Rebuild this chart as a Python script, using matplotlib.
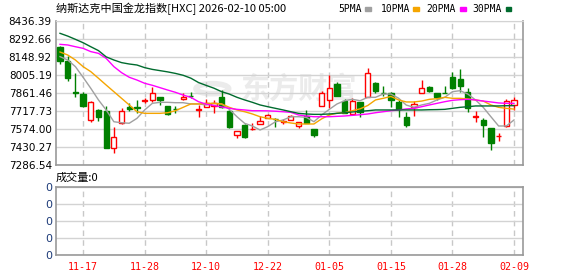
import matplotlib
matplotlib.use("Agg")
import matplotlib.pyplot as plt
from matplotlib.patches import Rectangle, Circle

dates = ["11-12", "11-13", "11-14", "11-17", "11-18", "11-19", "11-20", "11-21", "11-24", "11-25",
         "11-26", "11-28", "12-01", "12-02", "12-03", "12-04", "12-05", "12-08", "12-09", "12-10",
         "12-11", "12-12", "12-15", "12-16", "12-17", "12-18", "12-19", "12-22", "12-23", "12-24",
         "12-26", "12-29", "12-30", "12-31", "01-02", "01-05", "01-06", "01-07", "01-08", "01-09",
         "01-12", "01-13", "01-14", "01-15", "01-16", "01-20", "01-21", "01-22", "01-23", "01-26",
         "01-27", "01-28", "01-29", "01-30", "02-02", "02-03", "02-04", "02-05", "02-06", "02-09"]

opens = [8226, 8114, 7872, 7853, 7646, 7726, 7718, 7420, 7619, 7747,
         7750, 7797, 7806, 7827, 7758, 7735, 7813, 7840, 7725, 7747,
         7758, 7832, 7720, 7523, 7606, 7571, 7614, 7659, 7654, 7630,
         7646, 7598, 7678, 7571, 7758, 7806, 7931, 7800, 7694, 7792,
         7827, 7939, 7864, 7859, 7792, 7672, 7747, 7864, 7907, 7859,
         7864, 7987, 7971, 7872, 7672, 7646, 7579, 7515, 7598, 7766]
closes = [8120, 7984, 7861, 7760, 7790, 7672, 7425, 7508, 7720, 7737,
          7744, 7802, 7859, 7806, 7694, 7731, 7832, 7835, 7731, 7779,
          7779, 7752, 7587, 7558, 7507, 7576, 7640, 7686, 7650, 7635,
          7678, 7632, 7619, 7526, 7859, 7899, 7838, 7704, 7798, 7712,
          8018, 7880, 7859, 7806, 7731, 7606, 7774, 7899, 7877, 7827,
          7861, 7899, 7917, 7739, 7675, 7606, 7465, 7520, 7800, 7806]
highs = [8240, 8157, 8018, 7872, 7800, 7731, 7760, 7593, 7739, 7779,
         7805, 7819, 7907, 7830, 7758, 7758, 7864, 7872, 7766, 7811,
         7805, 7885, 7722, 7560, 7614, 7619, 7678, 7694, 7659, 7651,
         7686, 7632, 7726, 7571, 7880, 8005, 7952, 7811, 7819, 7792,
         8058, 7952, 7917, 7872, 7805, 7712, 7800, 7965, 7917, 7859,
         7917, 8032, 8050, 7904, 7720, 7659, 7579, 7545, 7811, 7832]
lows = [8090, 7955, 7832, 7747, 7632, 7640, 7425, 7385, 7614, 7718,
        7699, 7779, 7792, 7766, 7686, 7700, 7806, 7819, 7672, 7747,
        7700, 7739, 7585, 7499, 7499, 7569, 7614, 7659, 7593, 7614,
        7646, 7579, 7619, 7507, 7758, 7739, 7838, 7704, 7686, 7667,
        7827, 7864, 7838, 7747, 7672, 7593, 7678, 7864, 7872, 7806,
        7859, 7891, 7872, 7712, 7632, 7507, 7406, 7481, 7593, 7726]

ma5 = [8152, 8125, 8072, 7987, 7899, 7806, 7726, 7632, 7624, 7620,
       7659, 7726, 7779, 7787, 7787, 7784, 7784, 7774, 7774, 7766,
       7779, 7774, 7731, 7672, 7619, 7598, 7566, 7593, 7632, 7646,
       7672, 7672, 7667, 7632, 7686, 7731, 7774, 7800, 7811, 7800,
       7827, 7827, 7853, 7853, 7820, 7765, 7747, 7766, 7779, 7806,
       7827, 7872, 7880, 7853, 7806, 7747, 7672, 7598, 7598, 7646]
ma10 = [8189, 8165, 8125, 8072, 8032, 7979, 7925, 7872, 7819, 7766,
        7712, 7699, 7699, 7699, 7704, 7720, 7747, 7774, 7774, 7778,
        7779, 7774, 7747, 7726, 7712, 7694, 7672, 7659, 7651, 7632,
        7622, 7614, 7614, 7614, 7655, 7686, 7700, 7704, 7720, 7735,
        7762, 7806, 7819, 7834, 7806, 7790, 7790, 7797, 7811, 7816,
        7827, 7819, 7819, 7814, 7806, 7797, 7766, 7747, 7739, 7733]
ma20 = [8250, 8245, 8231, 8218, 8192, 8178, 8138, 8072, 8024, 7987,
        7965, 7939, 7923, 7904, 7885, 7867, 7845, 7827, 7792, 7772,
        7762, 7750, 7739, 7731, 7726, 7720, 7720, 7719, 7716, 7712,
        7707, 7686, 7678, 7672, 7672, 7672, 7675, 7678, 7683, 7688,
        7694, 7704, 7712, 7720, 7726, 7734, 7739, 7752, 7766, 7779,
        7792, 7803, 7808, 7811, 7806, 7797, 7790, 7782, 7779, 7779]
ma30 = [8338, 8316, 8290, 8263, 8231, 8200, 8150, 8125, 8104, 8093,
        8085, 8064, 8050, 8040, 8030, 8018, 8003, 7980, 7945, 7922,
        7900, 7872, 7853, 7827, 7806, 7787, 7766, 7752, 7739, 7726,
        7712, 7699, 7694, 7691, 7691, 7694, 7699, 7704, 7710, 7715,
        7720, 7726, 7726, 7726, 7726, 7726, 7726, 7726, 7728, 7729,
        7731, 7739, 7747, 7752, 7758, 7758, 7758, 7758, 7760, 7761]

price_ticks = [7286.54, 7430.27, 7574.00, 7717.73, 7861.46, 8005.19, 8148.92, 8292.66, 8436.39]
date_ticks = ["11-17", "11-28", "12-10", "12-22", "01-05", "01-15", "01-28", "02-09"]

W, H = 578, 276
fig = plt.figure(figsize=(W / 100, H / 100), dpi=100)
ax = fig.add_axes([56 / W, 1 - 165 / H, 466.7 / W, 144 / H])
axv = fig.add_axes([56 / W, 1 - 255 / H, 466.7 / W, 68.3 / H])

red = "#ff0000"
green = "#008000"
x = list(range(len(dates)))
tick_idx = [dates.index(d) for d in date_ticks]

# watermark
ax.text(0.395, 0.53, "东方财富", transform=ax.transAxes, fontsize=21, fontweight="bold",
        color="#ebebeb", family=["Noto Sans CJK SC"], ha="left", va="center", zorder=0)
ax.add_patch(Circle((0.335, 0.53), 0.035, transform=ax.transAxes, fill=False,
                    ec="#ebebeb", lw=4, zorder=0))

for i in x:
    o, c, h, l = opens[i], closes[i], highs[i], lows[i]
    up = c >= o
    col = red if up else green
    ax.vlines(i, l, h, color=col, lw=1, zorder=2)
    ax.add_patch(Rectangle((i - 0.34, min(o, c)), 0.68, abs(c - o),
                           facecolor="white" if up else green, edgecolor=col,
                           lw=1, zorder=3))

ax.plot(x, ma5, color="#a0a0a0", lw=1, zorder=4)
ax.plot(x, ma10, color="#f5a500", lw=1, zorder=4)
ax.plot(x, ma20, color="#ff00ff", lw=1, zorder=4)
ax.plot(x, ma30, color="#006b2e", lw=1, zorder=4)

for a in (ax, axv):
    a.set_xlim(-0.52, 60.13)
    a.set_xticks(tick_idx)
    a.grid(axis="x", color="#c8c8c8", lw=1, linestyle=(0, (4, 3)))
    a.grid(axis="y", color="#d3d3d3", lw=1)
    a.set_axisbelow(True)
    a.tick_params(length=0)
    for s in ("left", "right", "bottom"):
        a.spines[s].set_color("#999999")
        a.spines[s].set_linewidth(1.2)

ax.spines["top"].set_color("#d3d3d3")
axv.spines["top"].set_color("#999999")
axv.spines["top"].set_linewidth(1.2)

ax.set_ylim(price_ticks[0], price_ticks[-1])
ax.set_yticks(price_ticks)
ax.set_yticklabels([f"{v:.2f}" for v in price_ticks], fontsize=7.5, color="black")
ax.tick_params(axis="y", pad=3)
ax.set_xticklabels([])

axv.set_ylim(0, 4)
axv.set_yticks([0, 1, 2, 3, 4])
axv.set_yticklabels(["0"] * 5, fontsize=8, color="#1c3a78")
axv.tick_params(axis="y", pad=3)
axv.set_xticklabels(date_ticks, fontsize=7.2, color=red, family="DejaVu Sans Mono")
axv.tick_params(axis="x", pad=5)

fig.text(56 / W, 1 - 9 / H, "纳斯达克中国金龙指数[HXC] 2026-02-10 05:00", fontsize=8,
         family=["Noto Sans CJK SC", "DejaVu Sans"], va="center", ha="left")
fig.text(56 / W, 1 - 177.5 / H, "成交量:0", fontsize=8,
         family=["Noto Sans CJK SC", "DejaVu Sans"], va="center", ha="left")

legend_items = [("5PMA", "#a0a0a0", 362, 365), ("10PMA", "#f5a500", 410, 413),
                ("20PMA", "#ff00ff", 456, 460), ("30PMA", "#006b2e", 502, 505.5)]
for label, col, tx, mx in legend_items:
    fig.text(tx / W, 1 - 9 / H, label, fontsize=7, family="DejaVu Sans Mono",
             va="center", ha="right")
    fig.patches.append(Rectangle((mx / W, 1 - 10.5 / H), 5.5 / W, 3 / H,
                                 transform=fig.transFigure, color=col))

fig.savefig("out.png", dpi=100, facecolor="white")
